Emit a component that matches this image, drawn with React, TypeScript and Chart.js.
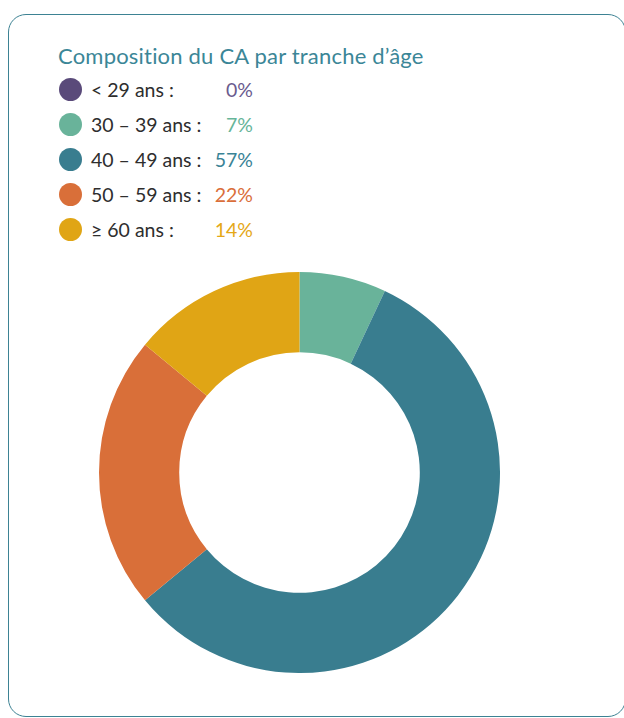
import React, { useEffect, useRef } from "react";
import { Chart, registerables } from "chart.js";

Chart.register(...registerables);

const title = "Composition du CA par tranche d\u2019\u00e2ge";
const categories = ["< 29 ans :", "30 \u2013 39 ans :", "40 \u2013 49 ans :", "50 \u2013 59 ans :", "\u2265 60 ans :"];
const values = [0, 7, 57, 22, 14];
const colors = ["#5a4a7a", "#69b39a", "#397d8f", "#d96f39", "#e0a515"];
const textColors = ["#6a5b8e", "#66b599", "#3a8396", "#da6e3a", "#e5a817"];

export default function App() {
  const ref = useRef<HTMLCanvasElement | null>(null);
  useEffect(() => {
    if (!ref.current) return;
    const chart = new Chart(ref.current, {
      type: "doughnut",
      data: {
        labels: categories,
        datasets: [
          {
            data: values,
            backgroundColor: colors,
            borderWidth: 0,
          },
        ],
      },
      options: {
        responsive: false,
        animation: false,
        cutout: "60%",
        layout: { padding: 0 },
        plugins: { legend: { display: false }, tooltip: { enabled: false } },
      },
    });
    return () => chart.destroy();
  }, []);

  return (
    <div style={{ position: "absolute", left: 8, top: 14, width: 616, height: 704, overflow: "hidden" }}>
      <div
        style={{
          position: "relative",
          width: 618,
          height: 703,
          border: "1px solid #3d8293",
          borderRadius: 18,
          boxSizing: "border-box",
          fontFamily: "Lato, sans-serif",
        }}
      >
        <div
          style={{
            position: "absolute",
            left: 49,
            top: 28,
            fontSize: 22,
            letterSpacing: 0.2,
            lineHeight: "26px",
            color: "#3b8697",
            whiteSpace: "nowrap",
          }}
        >
          {title}
        </div>
        {categories.map((c, i) => (
          <div key={c} style={{ position: "absolute", left: 0, top: 74.5 + 35 * i - 12, height: 24, width: 300 }}>
            <div
              style={{
                position: "absolute",
                left: 61 - 11.5,
                top: 0.5,
                width: 23,
                height: 23,
                borderRadius: "50%",
                background: colors[i],
              }}
            />
            <div
              style={{
                position: "absolute",
                left: 82,
                top: 0,
                fontSize: 19.5,
                lineHeight: "24px",
                fontWeight: 400,
                color: "#2e2e2e",
                whiteSpace: "nowrap",
              }}
            >
              {c}
            </div>
            <div
              style={{
                position: "absolute",
                right: 300 - 244,
                top: 0,
                fontSize: 19.5,
                lineHeight: "24px",
                fontWeight: 400,
                color: textColors[i],
                whiteSpace: "nowrap",
              }}
            >
              {values[i] + "%"}
            </div>
          </div>
        ))}
        <canvas
          ref={ref}
          width={401}
          height={401}
          style={{ position: "absolute", left: 90, top: 257, width: 401, height: 401 }}
        />
      </div>
    </div>
  );
}
